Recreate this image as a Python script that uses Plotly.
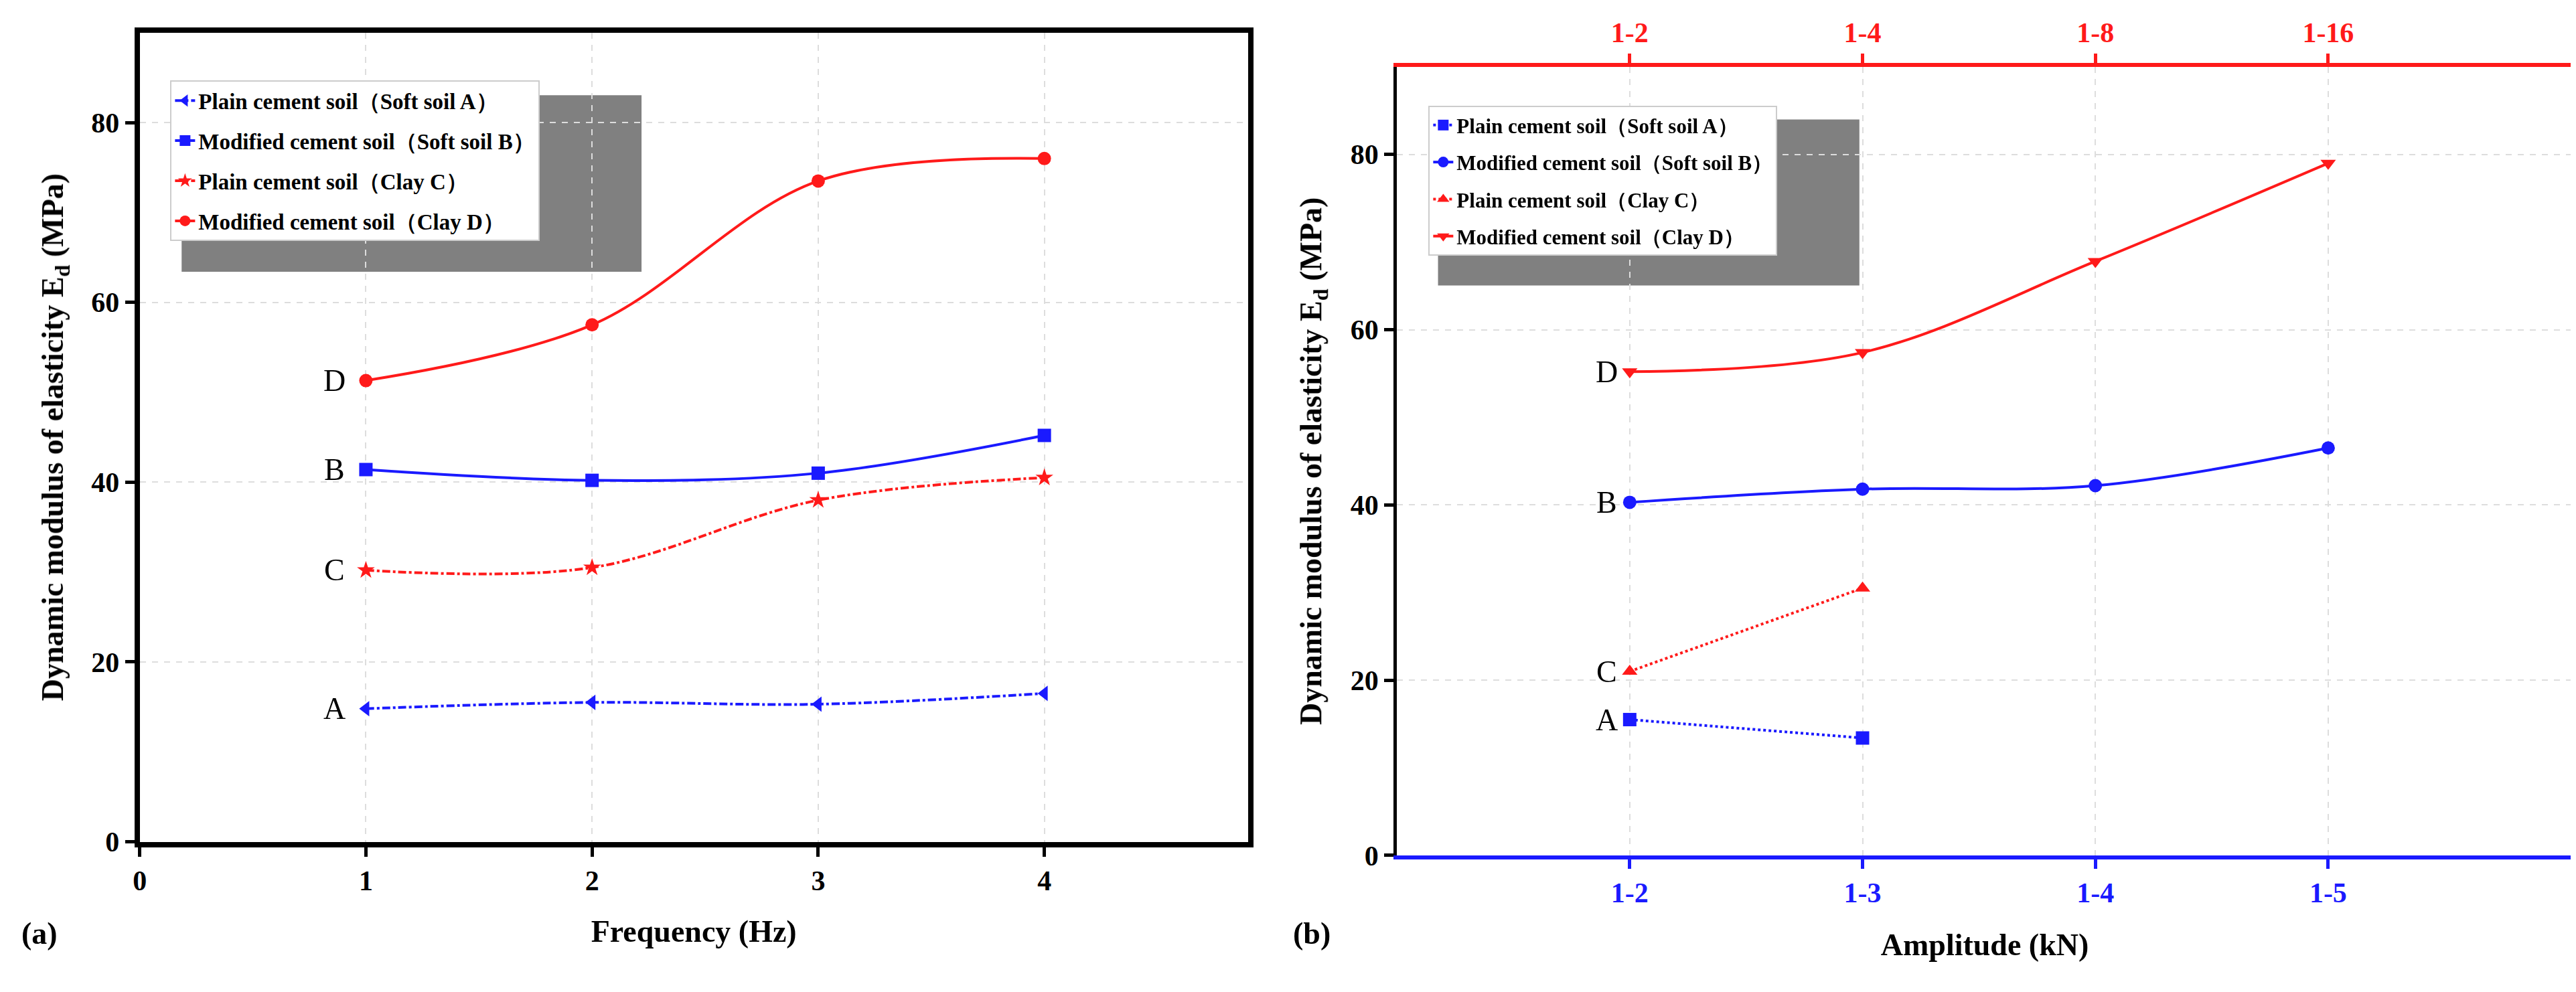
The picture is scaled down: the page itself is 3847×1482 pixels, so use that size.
import plotly.graph_objects as go

# panel (a): frequency
freq = [1, 2, 3, 4]
a_plain_A = [14.8, 15.5, 15.3, 16.5]
a_mod_B = [41.4, 40.2, 41.0, 45.2]
a_plain_C = [30.2, 30.5, 38.0, 40.5]
a_mod_D = [51.3, 57.5, 73.5, 76.0]

# panel (b): amplitude
amp_pos = [1, 2, 3, 4]
amp_labels = ["1-2", "1-3", "1-4", "1-5"]
top_labels = ["1-2", "1-4", "1-8", "1-16"]
b_plain_A = [15.5, 13.4]
b_mod_B = [40.3, 41.8, 42.2, 46.5]
b_plain_C = [21.0, 30.5]
b_mod_D = [55.2, 57.4, 67.8, 79.0]

names = ["Plain cement soil（Soft soil A）", "Modified cement soil（Soft soil B）",
         "Plain cement soil（Clay C）", "Modified cement soil（Clay D）"]

BLUE = "#1a1aff"
RED = "#ff1a1a"
FONT = "Liberation Serif"

fig = go.Figure()

# left panel
left = [
    (a_plain_A, BLUE, "dashdot", "triangle-left"),
    (a_mod_B, BLUE, "solid", "square"),
    (a_plain_C, RED, "dashdot", "star"),
    (a_mod_D, RED, "solid", "circle"),
]
for i, ((ys, c, dash, sym), nm) in enumerate(zip(left, names)):
    fig.add_trace(go.Scatter(x=freq, y=ys, name=nm, mode="lines+markers", legendgroup="a%d" % i,
                             line=dict(color=c, width=4, dash=dash, shape="spline"),
                             marker=dict(symbol=sym, size=20, color=c),
                             xaxis="x", yaxis="y", legend="legend"))

# right panel
right = [
    (amp_pos[:2], b_plain_A, BLUE, "dot", "square"),
    (amp_pos, b_mod_B, BLUE, "solid", "circle"),
    (amp_pos[:2], b_plain_C, RED, "dot", "triangle-up"),
    (amp_pos, b_mod_D, RED, "solid", "triangle-down"),
]
for i, ((xs, ys, c, dash, sym), nm) in enumerate(zip(right, names)):
    fig.add_trace(go.Scatter(x=xs, y=ys, name=nm, mode="lines+markers", legendgroup="b%d" % i,
                             line=dict(color=c, width=4, dash=dash, shape="spline"),
                             marker=dict(symbol=sym, size=20, color=c),
                             xaxis="x2", yaxis="y2", legend="legend2"))

# dummy trace for the top axis
fig.add_trace(go.Scatter(x=amp_pos, y=b_mod_D, mode="markers", opacity=0,
                         showlegend=False, hoverinfo="skip", xaxis="x3", yaxis="y2"))

tickfont = dict(family=FONT, size=42, color="black", weight="bold")
titlefont = dict(family=FONT, size=46, color="black")
grid = dict(showgrid=True, gridcolor="#dddddd", griddash="dash", gridwidth=2, zeroline=False)

fig.update_layout(
    width=3847, height=1482, paper_bgcolor="white", plot_bgcolor="white",
    margin=dict(l=0, r=0, t=0, b=0),
    font=dict(family=FONT, color="black"),
    xaxis=dict(domain=[0.0497, 0.481], range=[0, 4.9], tickvals=[0, 1, 2, 3, 4],
               showline=True, linecolor="black", linewidth=8, mirror=True,
               ticks="outside", ticklen=14, tickwidth=5, tickcolor="black",
               tickfont=tickfont, title=dict(text="<b>Frequency (Hz)</b>", font=titlefont, standoff=40),
               **grid),
    yaxis=dict(domain=[0.143, 0.972], range=[0, 90], tickvals=[0, 20, 40, 60, 80],
               showline=True, linecolor="black", linewidth=8, mirror=True,
               ticks="outside", ticklen=14, tickwidth=5, tickcolor="black",
               tickfont=tickfont,
               title=dict(text="<b>Dynamic modulus of elasticity E<sub>d</sub> (MPa)</b>", font=titlefont, standoff=30),
               **grid),
    xaxis2=dict(domain=[0.539, 0.9966], range=[0, 5.05], tickvals=amp_pos, ticktext=amp_labels,
                anchor="y2", showline=True, linecolor=BLUE, linewidth=6,
                ticks="outside", ticklen=14, tickwidth=5, tickcolor=BLUE,
                tickfont=dict(family=FONT, size=42, color=BLUE, weight="bold"),
                title=dict(text="<b>Amplitude (kN)</b>", font=titlefont, standoff=40),
                **grid),
    xaxis3=dict(overlaying="x2", side="top", anchor="y2", range=[0, 5.05], tickvals=amp_pos,
                ticktext=top_labels, showline=True, linecolor=RED, linewidth=6,
                ticks="outside", ticklen=14, tickwidth=5, tickcolor=RED,
                tickfont=dict(family=FONT, size=42, color=RED, weight="bold"), showgrid=False, zeroline=False),
    yaxis2=dict(domain=[0.129, 0.937], range=[0, 90], tickvals=[0, 20, 40, 60, 80], anchor="x2",
                showline=True, linecolor="black", linewidth=5,
                ticks="outside", ticklen=14, tickwidth=5, tickcolor="black",
                tickfont=tickfont,
                title=dict(text="<b>Dynamic modulus of elasticity E<sub>d</sub> (MPa)</b>", font=titlefont, standoff=30),
                **grid),
    legend=dict(x=0.0616, y=0.923, xanchor="left", yanchor="top", bgcolor="white",
                bordercolor="#cccccc", borderwidth=2, tracegroupgap=14,
                font=dict(family=FONT, size=33, color="black", weight="bold")),
    legend2=dict(x=0.5513, y=0.897, xanchor="left", yanchor="top", bgcolor="white",
                 bordercolor="#cccccc", borderwidth=2, tracegroupgap=12,
                 font=dict(family=FONT, size=31, color="black", weight="bold")),
)

# legend drop shadows
fig.add_shape(type="rect", xref="paper", yref="paper", x0=0.066, x1=0.245, y0=0.727, y1=0.908,
              fillcolor="#808080", line_width=0, layer="below")
fig.add_shape(type="rect", xref="paper", yref="paper", x0=0.555, x1=0.719, y0=0.713, y1=0.883,
              fillcolor="#808080", line_width=0, layer="below")

# curve letters
for lbl, yv in zip("ABCD", [a_plain_A[0], a_mod_B[0], a_plain_C[0], a_mod_D[0]]):
    fig.add_annotation(x=0.86, y=yv, xref="x", yref="y", text=lbl, showarrow=False,
                       font=dict(family=FONT, size=46, color="black"))
for lbl, yv in zip("ABCD", [b_plain_A[0], b_mod_B[0], b_plain_C[0], b_mod_D[0]]):
    fig.add_annotation(x=0.9, y=yv, xref="x2", yref="y2", text=lbl, showarrow=False,
                       font=dict(family=FONT, size=46, color="black"))

fig.add_annotation(x=0.003, y=0.03, xref="paper", yref="paper", text="<b>(a)</b>", showarrow=False,
                   xanchor="left", font=dict(family=FONT, size=46, color="black"))
fig.add_annotation(x=0.498, y=0.03, xref="paper", yref="paper", text="<b>(b)</b>", showarrow=False,
                   xanchor="left", font=dict(family=FONT, size=46, color="black"))

fig.write_html("out.html")
